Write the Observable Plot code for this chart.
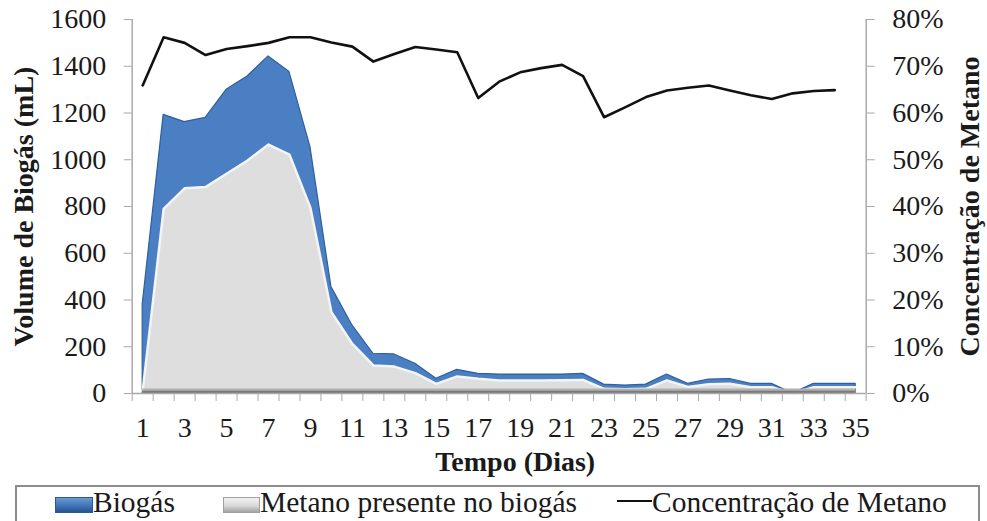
<!DOCTYPE html>
<html>
<head>
<meta charset="utf-8">
<script src="https://cdn.jsdelivr.net/npm/d3@7"></script>
<script src="https://cdn.jsdelivr.net/npm/@observablehq/plot@0.6"></script>
<style>
  html, body { margin: 0; padding: 0; background: #fff; overflow: hidden; }
  #wrap { position: relative; width: 987px; height: 521px; font-family: "Liberation Serif", "Times New Roman", serif; color: #1a1a1a; }
  #legend { position: absolute; left: 15px; top: 485px; width: 965px; height: 60px; border: 2px solid #8c8c8c; box-sizing: border-box; }
  .sw { position: absolute; }
  .lt { position: absolute; font-size: 29.5px; line-height: 29.5px; white-space: nowrap; }
</style>
</head>
<body>
<div id="wrap">
  <div id="chart"></div>
</div>
<script>
// ---- data ----
const days = [1,2,3,4,5,6,7,8,9,10,11,12,13,14,15,16,17,18,19,20,21,22,23,24,25,26,27,28,29,30,31,32,33,34,35];
const biogas = [380,1192,1161,1179,1299,1356,1442,1375,1054,455,291,170,167,127,63,101,84,81,81,81,81,84,38,34,38,81,41,60,62,41,41,0,41,41,41];
const metano = [10,790,878,883,940,997,1065,1022,794,348,212,120,115,87,41,73,63,56,56,56,57,58,20,18,20,56,28,40,42,27,27,0,27,27,27];
const concentracao = [65.9,76.2,75.0,72.4,73.7,74.3,75.0,76.2,76.2,75.1,74.2,71.0,72.6,74.1,73.6,73.0,63.2,66.7,68.7,69.6,70.3,67.9,59.1,61.2,63.4,64.8,65.4,65.9,64.8,63.8,63.0,64.2,64.7,64.9,null];
const leftTicks = [0,200,400,600,800,1000,1200,1400,1600];
const rightTicksPct = [0,10,20,30,40,50,60,70,80];
const xLabelDays = [1,3,5,7,9,11,13,15,17,19,21,23,25,27,29,31,33,35];
const yTitle = "Volume de Biogás (mL)";
const y2Title = "Concentração de Metano";
const xTitle = "Tempo (Dias)";
const legendLabels = ["Biogás", "Metano presente no biogás", "Concentração de Metano"];

// ---- derived table ----
const pctToLeft = 1600 / 80; // right axis 0–80 % mapped onto left 0–1600
const rows = days.map((d, i) => ({day: d, biogas: biogas[i], metano: metano[i], conc: concentracao[i]}));
const lineRows = rows.filter(r => r.conc != null).map(r => ({day: r.day, yv: r.conc * pctToLeft}));
const bounds = days.map(d => d - 0.5).concat([days[days.length - 1] + 0.5]);

const axisGray = "#a9a9a9";
const font = "'Liberation Serif', 'Times New Roman', serif";

const chart = Plot.plot({
  width: 987,
  height: 480,
  marginLeft: 131.7,
  marginRight: 121.3,
  marginTop: 19,
  marginBottom: 87,
  style: {fontFamily: font, fontSize: "28px", color: "#1a1a1a", background: "white", overflow: "visible"},
  x: {domain: [bounds[0], bounds[bounds.length - 1]]},
  y: {domain: [0, 1600]},
  marks: [
    // areas (overlapping, not stacked)
    Plot.areaY(rows, {x: "day", y1: 0, y2: "biogas", fill: "#4a80c3", stroke: "#2f5f9c", strokeWidth: 1.2}),
    Plot.areaY(rows, {x: "day", y1: 0, y2: "metano", fill: "#dedede"}),
    Plot.lineY(rows, {x: "day", y: "metano", stroke: "#f4f4f4", strokeWidth: 2.5}),
    Plot.ruleY([0], {x1: days[0], x2: days[days.length - 1], stroke: "#b0b0b0", strokeWidth: 5, dy: -2.5}),
    Plot.ruleY([0], {x1: days[0], x2: days[days.length - 1], stroke: "#7a7a7a", strokeWidth: 2.5, dy: -1.5}),
    // axis lines
    Plot.ruleX([bounds[0]], {stroke: axisGray, strokeWidth: 1.5}),
    Plot.ruleX([bounds[bounds.length - 1]], {stroke: axisGray, strokeWidth: 1.5}),
    Plot.ruleY([0], {stroke: axisGray, strokeWidth: 1.5}),
    // left axis
    Plot.axisY(leftTicks, {anchor: "left", tickSize: 8, tickPadding: 18, stroke: axisGray, color: "#1a1a1a", label: null, fontSize: 28, tickFormat: d => String(d)}),
    // right axis (percent)
    Plot.axisY(rightTicksPct.map(p => p * pctToLeft), {anchor: "right", tickSize: 8, tickPadding: 18, stroke: axisGray, color: "#1a1a1a", label: null, fontSize: 28, tickFormat: d => Math.round(d / pctToLeft) + "%"}),
    // bottom ticks at category boundaries
    Plot.axisX(bounds, {anchor: "bottom", tickSize: 8, stroke: axisGray, tickFormat: () => "", label: null}),
    // bottom labels
    Plot.axisX(xLabelDays, {anchor: "bottom", tickSize: 0, tickPadding: 24, color: "#1a1a1a", label: null, fontSize: 28, tickFormat: d => String(d)}),
    // concentration line
    Plot.lineY(lineRows, {x: "day", y: "yv", stroke: "#111", strokeWidth: 2.6}),
    // titles
    Plot.text([yTitle], {text: d => d, frameAnchor: "left", textAnchor: "middle", lineAnchor: "middle", dx: -108, rotate: -90, fontWeight: "bold", fontSize: 28, fill: "#1a1a1a"}),
    Plot.text([y2Title], {text: d => d, frameAnchor: "right", textAnchor: "middle", lineAnchor: "middle", dx: 104, rotate: -90, fontWeight: "bold", fontSize: 28, fill: "#1a1a1a"}),
    Plot.text([xTitle], {text: d => d, frameAnchor: "bottom", textAnchor: "middle", lineAnchor: "middle", dx: 16, dy: 69, fontWeight: "bold", fontSize: 28, fill: "#1a1a1a"})
  ]
});
document.getElementById("chart").appendChild(chart);

// ---- legend (HTML, below the SVG) ----
const wrap = document.getElementById("wrap");
const legend = document.createElement("div");
legend.id = "legend";
wrap.appendChild(legend);
function addAbs(cls, left, top, w, h, styleExtra) {
  const el = document.createElement("div");
  el.className = cls;
  el.style.left = left + "px";
  el.style.top = top + "px";
  if (w != null) el.style.width = w + "px";
  if (h != null) el.style.height = h + "px";
  Object.assign(el.style, styleExtra || {});
  wrap.appendChild(el);
  return el;
}
addAbs("sw", 55, 497, 38, 16, {background: "linear-gradient(#6f9fd6, #3f74b6 55%, #24508a)", boxShadow: "inset 0 0 0 1px #2a5a94"});
addAbs("lt", 93, 488.3, null, null).textContent = legendLabels[0];
addAbs("sw", 223, 497, 37, 16, {background: "linear-gradient(#f6f6f6, #d8d8d8 55%, #9a9a9a)", boxShadow: "inset 0 0 0 1px #a0a0a0"});
addAbs("lt", 260, 488.3, null, null).textContent = legendLabels[1];
addAbs("sw", 617, 499.5, 35, 2.6, {background: "#111"});
addAbs("lt", 652, 488.3, null, null).textContent = legendLabels[2];
</script>
</body>
</html>
